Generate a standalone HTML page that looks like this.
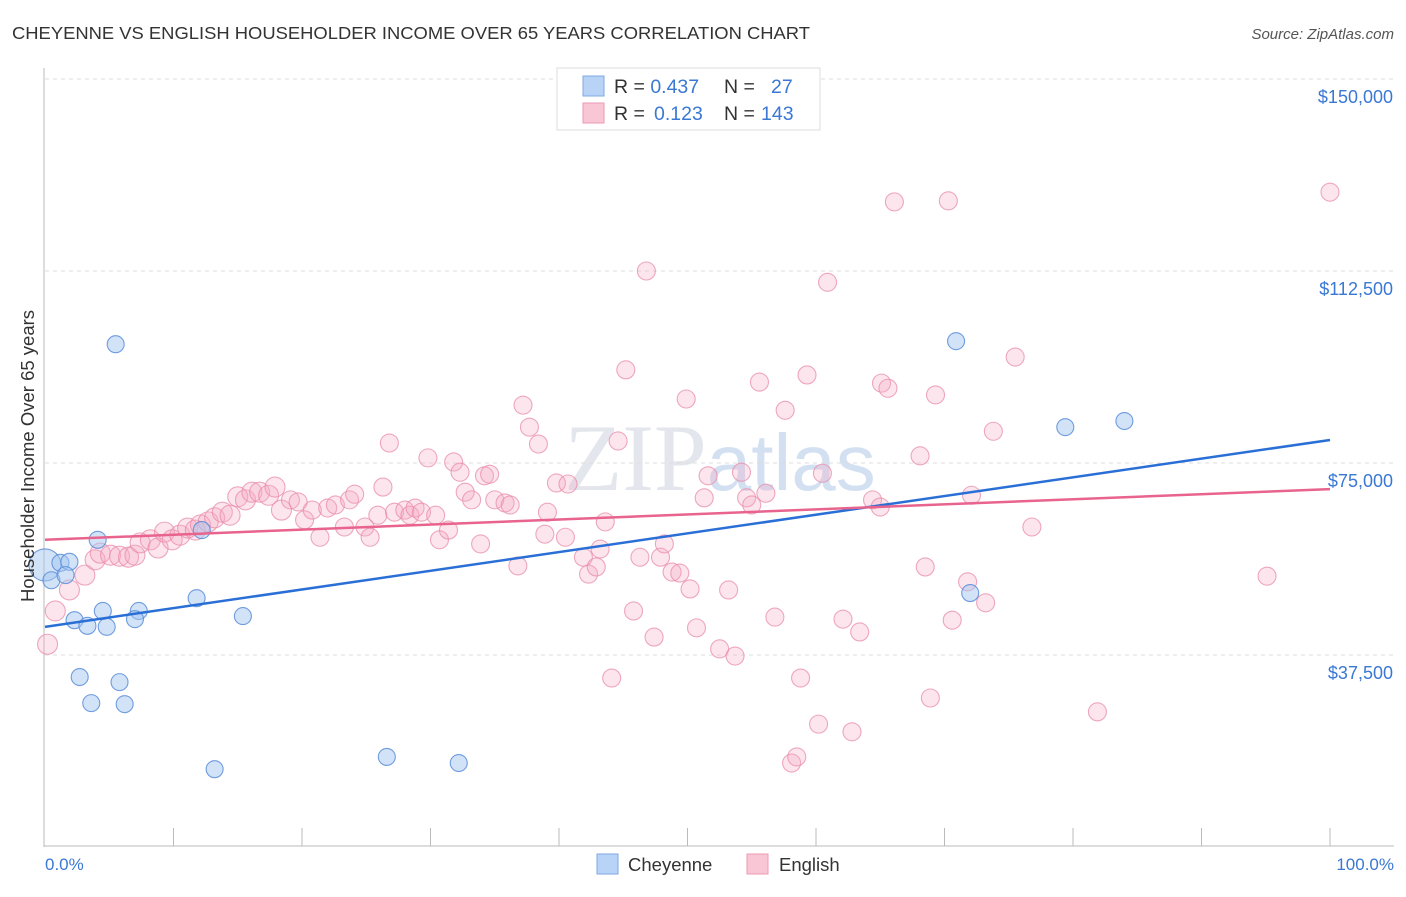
<!DOCTYPE html>
<html><head><meta charset="utf-8"><style>
body{margin:0;background:#fff;font-family:"Liberation Sans",sans-serif;}
</style></head><body>
<svg width="1406" height="892" xmlns="http://www.w3.org/2000/svg" id="chart">
<text x="12" y="39" font-size="17.5" fill="#333" textLength="798" lengthAdjust="spacingAndGlyphs">CHEYENNE VS ENGLISH HOUSEHOLDER INCOME OVER 65 YEARS CORRELATION CHART</text>
<text x="1394" y="39" font-size="15" fill="#555" font-style="italic" text-anchor="end">Source: ZipAtlas.com</text>
<text x="720" y="490" font-size="95" fill="#e3e6ec" text-anchor="middle" font-family="Liberation Serif,serif">ZIP<tspan font-family="Liberation Sans,sans-serif" fill="#d3e0f2" font-size="80">atlas</tspan></text>
<g id="grid"></g><g id="axes"></g><g id="pts"></g><g id="trend"></g>
<text transform="translate(34,456) rotate(-90)" font-size="18.5" fill="#333" text-anchor="middle">Householder Income Over 65 years</text>
<text x="45" y="870" font-size="17" fill="#3a78d4">0.0%</text>
<text x="1394" y="870" font-size="17" fill="#3a78d4" text-anchor="end">100.0%</text>
<g>
<rect x="557" y="68" width="263" height="62" fill="#fff" stroke="#ddd"/>
<rect x="583" y="76" width="21" height="20" fill="#b8d3f5" stroke="#7ea8e3"/>
<rect x="583" y="103" width="21" height="20" fill="#f9c6d5" stroke="#ec9ab3"/>
<text x="614" y="93" font-size="19.5" fill="#333">R = <tspan fill="#3a78d4">0.437</tspan><tspan x="724">N =</tspan><tspan x="771" fill="#3a78d4">27</tspan></text>
<text x="614" y="120" font-size="19.5" fill="#333">R = <tspan x="654" fill="#3a78d4">0.123</tspan><tspan x="724">N =</tspan><tspan x="761" fill="#3a78d4">143</tspan></text>
</g>
<g>
<rect x="597" y="854" width="21" height="20" fill="#b8d3f5" stroke="#7ea8e3"/>
<text x="628" y="871" font-size="18.5" fill="#333">Cheyenne</text>
<rect x="747" y="854" width="21" height="20" fill="#f9c6d5" stroke="#ec9ab3"/>
<text x="779" y="871" font-size="18.5" fill="#333">English</text>
</g>
</svg>
<script>
const yTicks=[37500,75000,112500,150000];
const yTickLabels=["$37,500","$75,000","$112,500","$150,000"];
const cheyX=[0,0.5,1.2,1.9,4.1,5.5,2.3,3.3,4.5,4.8,7.3,7.0,2.7,3.6,5.8,6.2,11.8,12.2,15.4,13.2,26.6,32.2,70.9,79.4,84.0,72.0,1.6];
const cheyY=[55.1,52.1,55.5,55.7,60.0,98.2,44.3,43.2,46.1,43.0,46.1,44.5,33.2,28.1,32.2,27.9,48.6,61.9,45.1,15.2,17.6,16.4,98.8,82.0,83.2,49.6,53.1];
const engX=[0.2,0.8,1.9,3.1,3.9,4.3,5.1,5.8,6.5,7.0,7.4,8.2,8.8,9.3,9.9,10.5,11.1,11.7,12.1,12.7,13.2,13.8,14.4,15.0,15.6,16.1,16.7,17.4,17.9,18.4,19.1,19.7,20.2,20.8,21.4,22.0,22.6,23.3,23.7,24.1,24.9,25.3,25.9,26.3,26.8,27.2,28.0,28.4,28.8,29.3,29.8,30.4,30.7,31.4,31.8,32.3,32.7,33.2,33.9,34.2,34.6,35.0,35.8,36.2,36.8,37.2,37.7,38.4,38.9,39.1,39.8,40.5,40.7,41.9,42.3,42.9,43.2,43.6,44.1,44.6,45.2,45.8,46.3,46.8,47.4,47.9,48.2,48.8,49.4,49.9,50.2,50.7,51.3,51.6,52.5,53.2,53.7,54.2,54.6,55.0,55.6,56.1,56.8,57.6,58.1,58.5,58.8,59.3,60.2,60.5,60.9,62.1,62.8,63.4,64.4,65.0,65.1,65.6,66.1,68.1,68.5,68.9,69.3,70.3,70.6,71.8,72.1,73.2,73.8,75.5,76.8,81.9,95.1,100];
const engY=[39.6,46.1,50.2,53.1,56.1,57.4,57.0,56.8,56.6,57.0,59.4,60.0,58.4,61.5,60.0,60.9,62.3,61.9,62.9,63.5,64.3,65.4,64.8,68.4,67.8,69.3,69.3,68.7,70.3,65.8,67.8,67.4,63.9,65.8,60.5,66.2,66.8,62.5,67.8,68.9,62.5,60.5,64.8,70.3,78.9,65.4,65.8,64.8,66.2,65.4,76.0,64.8,60.0,61.9,75.2,73.2,69.3,67.8,59.2,72.5,72.8,67.8,67.2,66.8,54.9,86.3,82.0,78.7,61.1,65.4,71.1,60.5,70.9,56.6,53.3,54.7,58.2,63.5,33.0,79.3,93.2,46.1,56.6,112.5,41.0,56.6,59.2,53.7,53.5,87.5,50.4,42.8,68.2,72.5,38.7,50.2,37.3,73.2,68.2,66.8,90.8,69.1,44.9,85.3,16.4,17.6,33.0,92.2,24.0,73.0,110.3,44.5,22.5,42.0,67.8,66.4,90.6,89.6,126.0,76.4,54.7,29.1,88.3,126.2,44.3,51.8,68.7,47.7,81.2,95.7,62.5,26.4,52.9,127.9];
const cheyTrend=[43.0,79.5];
const engTrend=[60.0,69.9];
const NS="http://www.w3.org/2000/svg";
const X=v=>45+v*12.85;
const Y=k=>847-k/37.5*192;
function mk(tag,attrs,parent){const e=document.createElementNS(NS,tag);for(const k in attrs)e.setAttribute(k,attrs[k]);document.getElementById(parent).appendChild(e);return e;}
yTicks.forEach((t,i)=>{
  const g=mk('line',{x1:45,x2:1394,y1:Y(t/1000),y2:Y(t/1000),stroke:'#ddd','stroke-dasharray':'4,4'},'grid');
  
  
  const tx=mk('text',{x:1393,y:Y(t/1000)+24,'font-size':18,fill:'#3a78d4','text-anchor':'end'},'grid');
  tx.textContent=yTickLabels[i];
  
  
});
mk('line',{x1:45,x2:1394,y1:79,y2:79,stroke:'#ddd','stroke-dasharray':'4,4'},'grid');
mk('line',{x1:44,x2:44,y1:68,y2:847,stroke:'#bbb'},'axes');
mk('line',{x1:44,x2:1394,y1:846,y2:846,stroke:'#bbb'},'axes');
for(let i=1;i<=10;i++){const t=mk('line',{x1:45+i*128.5,x2:45+i*128.5,y1:828,y2:846,stroke:'#bbb'},'axes');
  
  }
engX.forEach((x,i)=>{
  const c=mk('circle',{cx:X(x),cy:Y(engY[i]),r:i<30?10:9,fill:'rgba(245,170,195,0.3)',stroke:'rgba(232,140,170,0.75)','stroke-width':1.1},'pts');
  
  
});
cheyX.forEach((x,i)=>{
  const c=mk('circle',{cx:X(x),cy:Y(cheyY[i]),r:i==0?16:8.5,fill:'rgba(165,198,240,0.5)',stroke:'rgba(80,135,215,0.8)','stroke-width':1.1},'pts');
  
  
});
const l1=mk('line',{x1:X(0),x2:X(100),y1:Y(cheyTrend[0]),y2:Y(cheyTrend[1]),stroke:'#2a6fd6','stroke-width':2.5},'trend');


const l2=mk('line',{x1:X(0),x2:X(100),y1:Y(engTrend[0]),y2:Y(engTrend[1]),stroke:'#e8638d','stroke-width':2.5},'trend');


</script>
</body></html>
